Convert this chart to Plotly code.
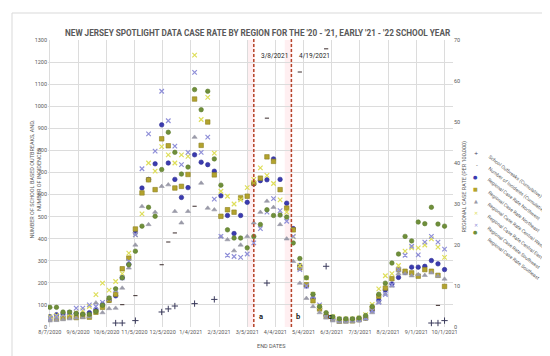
import plotly.graph_objects as go
import pandas as pd

# ---------------- data ----------------
start = pd.Timestamp("2020-08-07")
dates = [start + pd.Timedelta(days=7 * i) for i in range(61)]
N = None

northwest = [2.5, 3.0, 3.2, 3.0, 3.3, 3.2, 3.5, 4.2, 5.5, 6.5, 7.6, 12.0, 15.3, 23.0, 33.9, 36.0,
             39.8, 49.3, 40.0, 36.0, 31.6, 34.0, 42.0, 40.2, 39.6, 38.0, 32.0, 27.2, 22.8, 27.2,
             30.4, 34.9, 35.7, 35.9, 41.0, 36.0, 30.2, 24.0, 15.0, 10.0, 7.0, 4.5, 2.8, 2.0, 1.5,
             1.6, 1.7, 1.8, 2.2, 4.0, 6.5, 9.0, 10.5, 12.1, 13.3, 14.6, 14.6, 14.8, 16.2, 15.4, 14.0]
northeast = [2.0, 2.0, 2.2, 2.5, 2.3, 2.6, 2.4, 3.6, 4.8, 6.5, 8.0, 14.2, 16.8, 23.9, 32.7, 35.9,
             33.5, 45.9, 44.2, 33.9, 34.3, 37.2, 55.6, 44.3, 50.0, 37.1, 27.0, 28.6, 28.0, 31.5,
             31.9, 35.1, 36.3, 41.5, 40.4, 33.5, 29.0, 23.7, 14.4, 10.3, 6.4, 4.4, 2.6, 2.0, 1.4,
             1.5, 1.5, 1.8, 2.2, 4.6, 7.5, 9.5, 11.8, 14.0, 13.6, 13.2, 12.4, 14.0, 13.6, 12.6, 9.9]
central_west = [1.5, 1.6, 1.8, 2.0, 2.2, 2.3, 2.5, 5.9, 3.5, 4.5, 4.6, 9.5, 14.4, 20.0, 29.4, 25.0,
                28.0, 34.3, 34.7, 28.2, 25.4, 28.2, 46.3, 35.1, 29.0, 28.6, 22.0, 21.3, 18.6, 20.0,
                22.1, 25.4, 28.0, 30.7, 29.2, 25.0, 21.5, 16.0, 10.7, 7.0, 5.0, 3.5, 2.2, 1.5, 1.2,
                1.2, 1.3, 1.5, 2.0, 3.5, 6.0, 8.0, 10.0, 13.0, 13.0, 12.5, 12.8, 12.6, 13.2, 12.4, 11.7]
central_east = [2.5, 2.8, 3.0, 3.2, 3.5, 4.0, 5.0, 7.9, 10.7, 9.0, 11.1, 13.0, 18.0, 22.5, 27.6, 40.0,
                38.0, 44.0, 42.0, 40.0, 42.0, 41.6, 66.3, 50.6, 56.0, 42.4, 33.1, 31.9, 30.0, 31.0,
                34.0, 36.0, 38.8, 37.0, 35.0, 31.0, 28.0, 22.0, 15.0, 12.0, 8.0, 5.0, 3.0, 2.5, 2.0,
                2.0, 2.0, 2.2, 3.0, 5.5, 9.3, 12.5, 13.0, 15.0, 18.5, 19.3, 19.3, 20.0, 21.5, 19.5, 17.0]
southwest = [2.2, 2.5, 3.0, 3.5, 4.6, 4.6, 5.4, 5.0, 6.0, 7.0, 9.0, 12.0, 16.0, 22.5, 38.6, 47.1,
             42.9, 57.5, 50.3, 44.1, 39.6, 42.6, 62.1, 42.6, 46.3, 31.2, 22.1, 17.5, 17.2, 17.0,
             17.8, 20.5, 24.0, 28.0, 31.3, 28.4, 25.8, 22.1, 14.0, 10.0, 7.5, 5.4, 3.0, 2.2, 1.8,
             1.8, 1.8, 1.9, 2.2, 4.0, 6.0, 7.9, 10.3, 14.0, 17.5, 19.7, 17.6, 20.7, 22.1, 20.7, 19.0]
southeast = [4.8, 4.8, 3.65, 3.65, 3.3, 3.1, 3.1, 3.8, 5.3, 7.1, 9.3, 12.0, 15.2, 18.5, 24.6, 29.2,
             27.0, 38.4, 47.5, 42.6, 37.3, 39.0, 57.9, 53.0, 57.5, 41.0, 34.6, 23.7, 21.7, 21.7,
             19.3, 22.1, 25.0, 28.6, 27.2, 27.3, 26.8, 20.5, 16.7, 12.0, 8.0, 5.0, 3.5, 2.5, 2.0,
             2.0, 2.0, 2.2, 2.8, 5.0, 8.0, 10.7, 15.6, 17.8, 22.1, 21.0, 25.6, 25.2, 29.2, 25.1, 24.6]

outbreaks = [N] * 61
for k, v in {10: 18, 11: 18, 13: 29, 17: 68, 18: 82, 19: 95, 22: 106, 25: 125, 33: 199,
             42: 275, 58: 18, 59: 18, 60: 29}.items():
    outbreaks[k] = v
incidents = [N] * 61
for k, v in {11: 101, 13: 142, 17: 282, 18: 385, 19: 426, 22: 547, 33: 946, 38: 1155,
             42: 1260, 59: 98}.items():
    incidents[k] = v

event_dates = ["2021-03-12", "2021-04-21"]
event_labels = ["3/8/2021", "4/19/2021"]
letters = [("a", "2021-03-20"), ("b", "2021-04-28"), ("c", "2021-06-01")]

legend_names = ["School Outbreaks (Cumulative)", "Number of Incidents (Cumulative)",
                "Regional Case Rate Northwest", "Regional Case Rate Northeast",
                "Regional Case Rate Central West", "Regional Case Rate Central East",
                "Regional Case Rate Southwest", "Regional Case Rate Southeast"]

# ---------------- figure ----------------
W, H = 550, 356
L, R, T, B = 40, 105, 32, 37
PW, PH = W - L - R, H - T - B
def px(x): return (x - L) / PW
def py(y): return (H - B - y) / PH

FONT = "Roboto"
GRAY = "#595959"
fig = go.Figure()

def add_rate(name, vals, symbol, color, line_color, size=4.5, lw=0.6):
    fig.add_trace(go.Scatter(x=dates, y=vals, mode="markers", name=name, yaxis="y2",
                             marker=dict(symbol=symbol, color=color, size=size,
                                         line=dict(color=line_color, width=lw))))

fig.add_trace(go.Scatter(x=dates, y=outbreaks, mode="markers", name=legend_names[0],
                         marker=dict(symbol="cross-thin", size=4.5, color="#3b3b5c",
                                     line=dict(color="#3b3b5c", width=1))))
fig.add_trace(go.Scatter(x=dates, y=incidents, mode="markers", name=legend_names[1],
                         marker=dict(symbol="line-ew", size=3, color="#2b2b2b",
                                     line=dict(color="#3a2a2a", width=1))))
add_rate(legend_names[2], northwest, "circle", "#3b3bb0", "#2c2c90")
add_rate(legend_names[3], northeast, "square", "#b3a32e", "#8c7f1e")
add_rate(legend_names[4], central_west, "triangle-up", "#9a9aa8", "#9a9aa8", 4.5)
add_rate(legend_names[5], central_east, "x-thin", "#dede5a", "#dede5a", 4.5, 1.2)
add_rate(legend_names[6], southwest, "x-thin", "#8f8fd8", "#8f8fd8", 4.5, 1.2)
add_rate(legend_names[7], southeast, "circle", "#6f8f3a", "#5d7a2e")

shapes = []
for d in event_dates:
    dd = pd.Timestamp(d)
    shapes.append(dict(type="rect", xref="x", yref="paper",
                       x0=dd - pd.Timedelta(days=7), x1=dd + pd.Timedelta(days=1), y0=0, y1=1,
                       fillcolor="rgba(255,190,200,0.25)", line=dict(width=0), layer="below"))
    shapes.append(dict(type="line", xref="x", yref="paper", x0=dd, x1=dd, y0=0, y1=1.01,
                       line=dict(color="#b5442a", width=1.5, dash="3px,2px")))
shapes.append(dict(type="rect", xref="paper", yref="paper", x0=px(4), x1=px(546),
                   y0=py(351), y1=py(5), line=dict(color="#d9d9d9", width=1)))

ann = []
ann.append(dict(text="NEW JERSEY SPOTLIGHT DATA CASE RATE BY REGION FOR THE '20 - '21, EARLY '21 - '22 SCHOOL YEAR",
                x=px(250), y=py(18), xref="paper", yref="paper", showarrow=False,
                font=dict(family="Roboto", size=8.2, color=GRAY, weight="bold")))
for d, lab in zip(event_dates, event_labels):
    ann.append(dict(text=lab, x=pd.Timestamp(d) + pd.Timedelta(days=6), y=py(42), xref="x",
                    yref="paper", showarrow=False, xanchor="left",
                    font=dict(family=FONT, size=6.5, color="#262626")))
for lt, d in letters:
    ann.append(dict(text="<b>" + lt + "</b>", x=d, y=py(315), xref="x", yref="paper",
                    showarrow=False, font=dict(family=FONT, size=7.5, color="#1a1a1a")))
ann.append(dict(text="END DATES", x=px(263), y=py(343), xref="paper", yref="paper",
                showarrow=False, font=dict(family=FONT, size=5.5, color=GRAY)))
ann.append(dict(text="NUMBER OF SCHOOL BASED OUTBREAKS, AND,<br>NUMBER OF INCIDENCES",
                x=px(18), y=py(172), xref="paper", yref="paper", showarrow=False, textangle=-90,
                font=dict(family=FONT, size=5.5, color=GRAY)))
ann.append(dict(text="REGIONAL CASE RATE (PER 100,000)", x=px(461), y=py(178), xref="paper",
                yref="paper", showarrow=False, textangle=-90,
                font=dict(family=FONT, size=5.5, color=GRAY)))

leg_syms = [("+", "#3b3b5c"), ("-", "#2b2b2b"), ("●", "#3b3bb0"), ("■", "#b3a32e"),
            ("▲", "#9a9aa8"), ("✕", "#dede5a"), ("✕", "#8f8fd8"), ("●", "#6f8f3a")]
for k, (name, (sym, col)) in enumerate(zip(legend_names, leg_syms)):
    yy = 145 + 12 * k
    ann.append(dict(text=sym, x=px(472), y=py(yy), xref="paper", yref="paper", showarrow=False,
                    font=dict(family="DejaVu Sans", size=5, color=col)))
    ann.append(dict(text=name, x=px(476), y=py(yy - 2), xref="paper", yref="paper",
                    showarrow=False, textangle=38, xanchor="left", yanchor="top",
                    font=dict(family=FONT, size=4.8, color=GRAY)))

fig.update_layout(
    width=W, height=H, margin=dict(l=L, r=R, t=T, b=B),
    paper_bgcolor="white", plot_bgcolor="white", showlegend=False,
    font=dict(family=FONT, size=6, color=GRAY),
    shapes=shapes, annotations=ann,
    xaxis=dict(type="date", range=["2020-08-05", "2021-10-10"], tick0="2020-08-07",
               dtick=30 * 24 * 3600 * 1000, tickformat="%-m/%-d/%Y", showgrid=True,
               gridcolor="#dcdcdc", gridwidth=1, zeroline=False, showline=False,
               tickfont=dict(size=5.5, color=GRAY), ticks=""),
    yaxis=dict(range=[0, 1300], dtick=100, showgrid=True, gridcolor="#dcdcdc", zeroline=False,
               tickfont=dict(size=5.5, color=GRAY), ticks=""),
    yaxis2=dict(range=[0, 70], dtick=10, overlaying="y", side="right", showgrid=False,
                zeroline=False, tickfont=dict(size=5.5, color=GRAY), ticks=""),
)

fig.write_html("out.html")
